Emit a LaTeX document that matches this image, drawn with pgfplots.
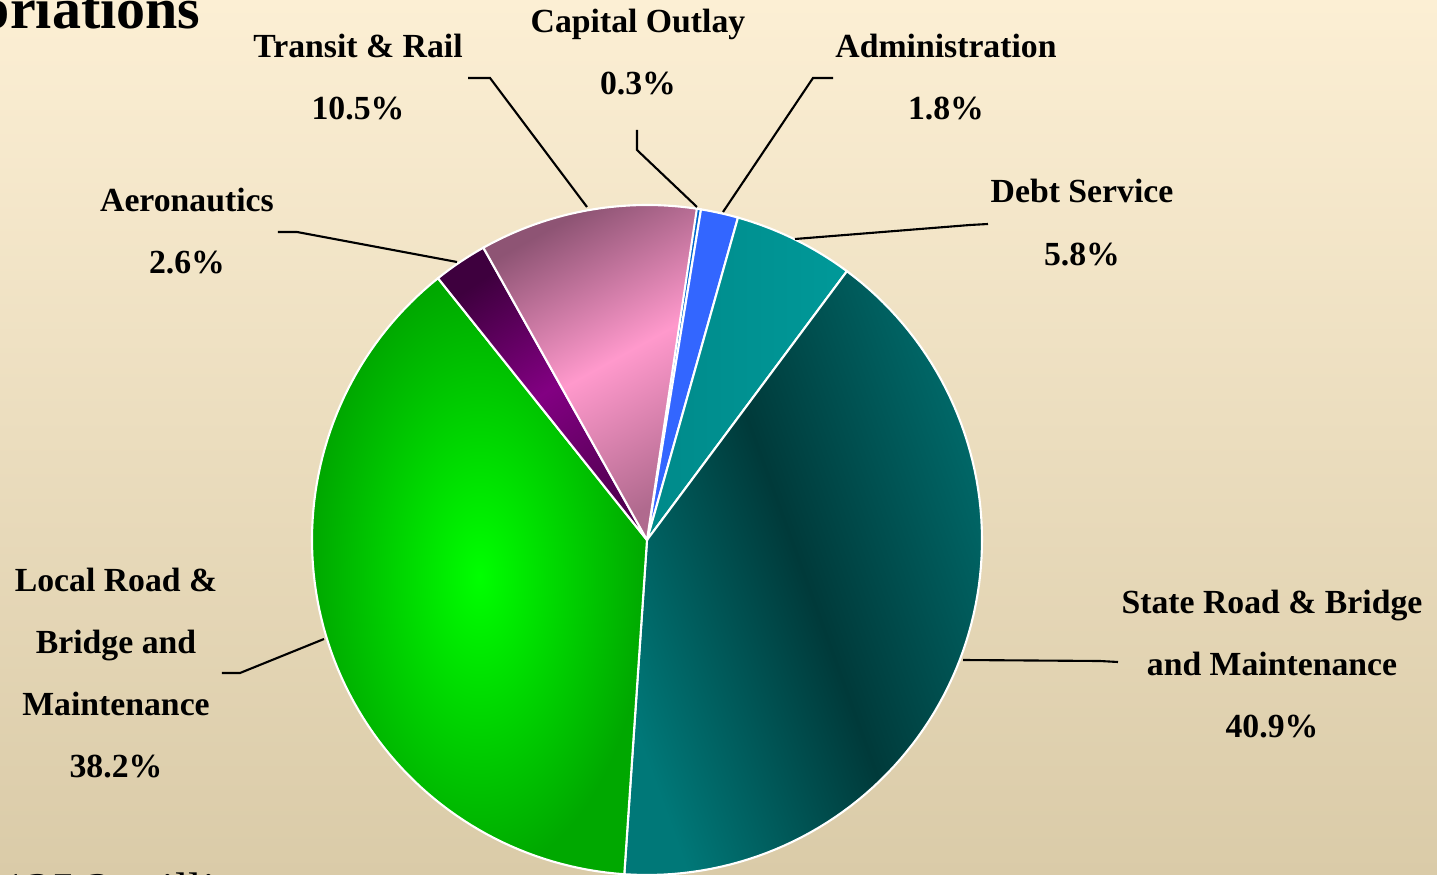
\documentclass[border=0pt]{standalone}
\usepackage{fontspec}
\setmainfont{Liberation Serif}
\usepackage{pgfplots}
\pgfplotsset{compat=1.18}

\definecolor{bgtop}{HTML}{FCEFD4}
\definecolor{bgbot}{HTML}{DACBA8}
\definecolor{capc}{HTML}{0066CC}
\definecolor{admc}{HTML}{3366FF}
\definecolor{debtc}{HTML}{009999}
\definecolor{debtdk}{HTML}{008A8A}
\definecolor{statec}{HTML}{007878}
\definecolor{stater}{HTML}{006A6A}
\definecolor{statedk}{HTML}{003A3A}
\definecolor{localc}{HTML}{00FF00}
\definecolor{localdk}{HTML}{00A800}
\definecolor{aeroc}{HTML}{820082}
\definecolor{aerodk}{HTML}{3E003E}
\definecolor{transc}{HTML}{FF99CC}
\definecolor{transdk}{HTML}{8E5474}
\definecolor{transdk2}{HTML}{B06A8E}

% shares in percent, clockwise from the top
\def\vCap{0.3}
\def\vAdm{1.8}
\def\vDebt{5.8}
\def\vState{40.9}
\def\vLocal{38.2}
\def\vAero{2.6}
\def\vTrans{10.5}

% slice boundaries (degrees, counterclockwise from +x)
\pgfmathsetmacro\aA{81.8}
\pgfmathsetmacro\aB{\aA-3.6*\vCap}
\pgfmathsetmacro\aC{\aB-3.6*\vAdm}
\pgfmathsetmacro\aD{\aC-3.6*\vDebt}
\pgfmathsetmacro\aE{\aD-3.6*\vState}
\pgfmathsetmacro\aF{\aE-3.6*\vLocal}
\pgfmathsetmacro\aG{\aF-3.6*\vAero}
\pgfmathsetmacro\aH{\aG-3.6*\vTrans}

\newcommand\pieslice[3]{%
  \addplot[draw=white, line width=0.6pt, #3, domain=#2:#1, samples=90]
    ({647+335*cos(x)},{540-335*sin(x)}) -- (647,540) -- cycle;}
\newcommand\lab{\fontsize{9.6}{11}\selectfont\bfseries}

\begin{document}
\begin{tikzpicture}
\useasboundingbox (0,0) rectangle (14.37cm,8.75cm);
\clip (0,0) rectangle (14.37cm,8.75cm);
\shade[top color=bgtop, bottom color=bgbot] (0,0) rectangle (14.37cm,8.75cm);
\begin{axis}[
  scale only axis, width=14.37cm, height=8.75cm,
  xmin=0, xmax=1437, ymin=0, ymax=875, y dir=reverse,
  hide axis, clip=false,
]
\pieslice{\aA}{\aB}{fill=capc}
\pieslice{\aB}{\aC}{fill=admc}
\pieslice{\aC}{\aD}{left color=debtdk, right color=debtc}
\pieslice{\aD}{\aE}{left color=statec, right color=stater, middle color=statedk, shading angle=110}
\pieslice{\aE}{\aF}{inner color=localc, outer color=localdk}
\pieslice{\aF}{\aG}{left color=aerodk, right color=aerodk!70!aeroc, middle color=aeroc, shading angle=33}
\pieslice{\aG}{\aH}{left color=transdk, right color=transdk2, middle color=transc, shading angle=29}

% leader lines
\draw[line width=0.6pt] (468,78) -- (490,78) -- (587,207);
\draw[line width=0.6pt] (637,130) -- (637,150) -- (697,207);
\draw[line width=0.6pt] (833,78) -- (813,78) -- (723,212);
\draw[line width=0.6pt] (988,224) -- (970,225) -- (795,239);
\draw[line width=0.6pt] (1118,662) -- (1100,661) -- (963,660);
\draw[line width=0.6pt] (222,673) -- (240,673) -- (324,639);
\draw[line width=0.6pt] (278,232) -- (297,232) -- (457,262);

% labels
\node[anchor=base, font=\lab] at (358,58) {Transit \& Rail};
\node[anchor=base, font=\lab] at (358,120) {10.5\%};
\node[anchor=base, font=\lab] at (638,33) {Capital Outlay};
\node[anchor=base, font=\lab] at (638,95) {0.3\%};
\node[anchor=base, font=\lab] at (946,58) {Administration};
\node[anchor=base, font=\lab] at (946,120) {1.8\%};
\node[anchor=base, font=\lab] at (1082,203) {Debt Service};
\node[anchor=base, font=\lab] at (1082,266) {5.8\%};
\node[anchor=base, font=\lab] at (187,212) {Aeronautics};
\node[anchor=base, font=\lab] at (187,274) {2.6\%};
\node[anchor=base, font=\lab] at (116,591) {Local Road \&};
\node[anchor=base, font=\lab] at (116,653) {Bridge and};
\node[anchor=base, font=\lab] at (116,715) {Maintenance};
\node[anchor=base, font=\lab] at (116,777) {38.2\%};
\node[anchor=base, font=\lab] at (1272,613) {State Road \& Bridge};
\node[anchor=base, font=\lab] at (1272,675) {and Maintenance};
\node[anchor=base, font=\lab] at (1272,737) {40.9\%};

% title and note, cut off by the edge of the picture as in the original slide
\node[anchor=base east, inner sep=0pt, font=\fontsize{16.5}{18}\selectfont\bfseries] at (201,29) {Appropriations};
\node[anchor=base west, inner sep=0pt, font=\fontsize{13.8}{16}\selectfont] at (-22,906) {\$125.2 million};
\end{axis}
\end{tikzpicture}
\end{document}
